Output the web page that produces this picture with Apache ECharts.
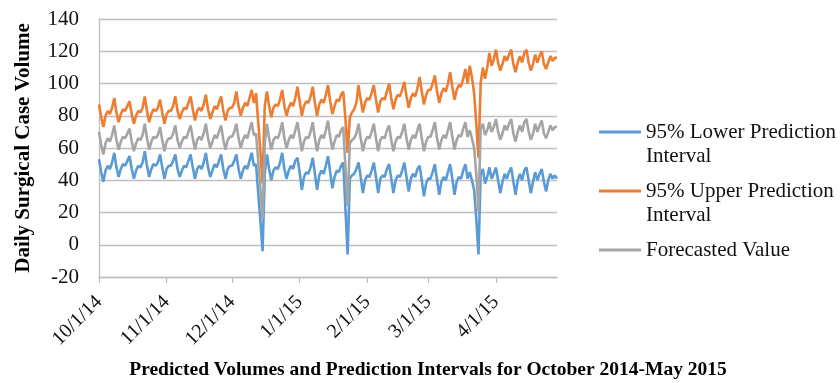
<!DOCTYPE html>
<html>
<head>
<meta charset="utf-8">
<title>Daily Surgical Case Volume Forecast</title>
<script src="https://cdn.jsdelivr.net/npm/echarts@6/dist/echarts.min.js"></script>
<style>
  html, body { margin: 0; padding: 0; background: #ffffff; }
  #chart { width: 840px; height: 383px; }
</style>
</head>
<body>
<div id="chart"></div>
<script>
// First day of the daily series; one value per day follows.
const startDate = '2014-10-01';

const seriesNames = [
  '95% Lower Prediction Interval',
  '95% Upper Prediction Interval',
  'Forecasted Value'
];

const lowerValues = [
  53, 45, 39, 46, 49, 47, 51,
  57, 48, 42, 47, 50, 49, 52,
  55, 47, 41, 46, 49, 48, 51,
  58, 49, 42, 47, 50, 49, 51,
  56, 48, 41, 47, 49, 49, 52,
  56, 47, 42, 46, 49, 48, 52,
  56, 48, 41, 47, 49, 47, 51,
  57, 48, 42, 46, 50, 48, 52,
  56, 47, 41, 47, 49, 49, 52,
  56, 47, 41, 46, 49, 47, 52,
  57, 49, 50, 32, 15, -4, 44,
  56, 47, 40, 46, 48, 47, 51,
  57, 47, 41, 46, 49, 47, 52,
  54, 45, 34, 42, 45, 44, 48,
  54, 44, 34, 43, 46, 44, 49,
  55, 45, 35, 42, 46, 45, 49,
  51, 22, -6, 41, 43, 44, 47,
  51, 42, 32, 40, 43, 42, 46,
  51, 42, 32, 41, 43, 42, 47,
  50, 41, 32, 40, 43, 42, 46,
  51, 42, 33, 41, 44, 42, 47,
  49, 40, 30, 38, 41, 41, 45,
  50, 40, 31, 39, 42, 40, 45,
  50, 41, 31, 39, 42, 41, 46,
  50, 41, 45, 40, 34, 16, -6,
  44, 47, 38, 42, 48, 41, 44,
  48, 40, 32, 39, 44, 41, 45,
  48, 39, 31, 40, 44, 40, 46,
  48, 40, 32, 39, 45, 40, 44,
  47, 39, 33, 40, 44, 41, 43,
  41
];

const upperValues = [
  87, 79, 73, 80, 83, 81, 85,
  91, 82, 76, 81, 84, 83, 86,
  89, 81, 75, 80, 83, 82, 85,
  92, 83, 76, 81, 84, 83, 85,
  90, 82, 75, 81, 83, 83, 86,
  92, 83, 78, 82, 85, 84, 88,
  92, 84, 77, 83, 85, 83, 87,
  93, 84, 78, 82, 86, 84, 88,
  92, 83, 77, 83, 85, 85, 88,
  95, 86, 80, 85, 88, 86, 91,
  96, 88, 94, 76, 58, 38, 86,
  95, 86, 79, 85, 87, 86, 90,
  96, 86, 80, 85, 88, 86, 91,
  98, 89, 80, 86, 89, 88, 92,
  98, 88, 80, 87, 90, 88, 93,
  99, 89, 81, 86, 90, 89, 93,
  95, 78, 57, 79, 82, 84, 88,
  99, 90, 82, 88, 91, 90, 94,
  99, 90, 82, 89, 91, 90, 95,
  100, 91, 84, 90, 93, 92, 96,
  101, 92, 85, 91, 94, 92, 97,
  104, 95, 87, 93, 96, 96, 100,
  105, 95, 88, 94, 97, 95, 100,
  107, 98, 90, 96, 99, 98, 103,
  109, 100, 111, 104, 94, 75, 54,
  100, 110, 103, 110, 119, 111, 115,
  121, 113, 108, 112, 117, 114, 118,
  121, 112, 107, 113, 117, 113, 119,
  121, 113, 108, 112, 118, 113, 117,
  120, 112, 109, 113, 117, 114, 116,
  116
];

const forecastValues = [
  70, 62, 56, 63, 66, 64, 68,
  74, 65, 59, 64, 67, 66, 69,
  72, 64, 58, 63, 66, 65, 68,
  75, 66, 59, 64, 67, 66, 68,
  73, 65, 58, 64, 66, 66, 69,
  74, 65, 60, 64, 67, 66, 70,
  74, 66, 59, 65, 67, 65, 69,
  75, 66, 60, 64, 68, 66, 70,
  74, 65, 59, 65, 67, 67, 70,
  75, 66, 60, 65, 68, 66, 71,
  76, 68, 69, 52, 35, 16, 63,
  75, 66, 59, 65, 67, 66, 70,
  76, 66, 60, 65, 68, 66, 71,
  76, 67, 58, 64, 67, 66, 70,
  76, 66, 58, 65, 68, 66, 71,
  77, 67, 59, 64, 68, 67, 71,
  73, 48, 24, 63, 65, 66, 69,
  75, 66, 58, 64, 67, 66, 70,
  75, 66, 58, 65, 67, 66, 71,
  74, 65, 58, 64, 67, 66, 70,
  75, 66, 59, 65, 68, 66, 71,
  75, 66, 58, 64, 67, 67, 71,
  76, 66, 59, 65, 68, 66, 71,
  76, 67, 59, 65, 68, 67, 72,
  76, 67, 71, 66, 60, 44, 21,
  72, 75, 68, 71, 76, 70, 73,
  78, 70, 65, 69, 74, 71, 75,
  78, 69, 64, 70, 74, 70, 76,
  78, 70, 65, 69, 75, 70, 74,
  77, 69, 66, 70, 74, 71, 73,
  73
];

// Value axis range and step
const yMin = -20;
const yMax = 140;
const yStep = 20;

const yAxisTitle = 'Daily Surgical Case Volume';
const chartTitle = 'Predicted Volumes and Prediction Intervals for October 2014-May 2015';

// Day labels in M/D/YY form, one per value
function buildDayLabels(start, count) {
  const parts = start.split('-').map(Number);
  const labels = [];
  for (let k = 0; k < count; k++) {
    const t = new Date(Date.UTC(parts[0], parts[1] - 1, parts[2] + k));
    labels.push((t.getUTCMonth() + 1) + '/' + t.getUTCDate() + '/' + String(t.getUTCFullYear()).slice(2));
  }
  return labels;
}
const dayLabels = buildDayLabels(startDate, forecastValues.length);

// Only the first day of each month gets a tick and label
function isMonthStart(index, value) {
  return value.split('/')[1] === '1';
}

const FONT = '"Liberation Serif", "Times New Roman", serif';
const colors = ['#5B9BD5', '#ED7D31', '#A5A5A5'];
const gridColor = '#BFBFBF';

// Legend text: the key line sits level with the first text line,
// so every entry gets one empty line above and wraps after "Prediction".
function legendText(name) {
  if (name.indexOf(' Interval') >= 0) {
    return '\n' + name.replace(' Interval', '\nInterval');
  }
  return '\n' + name + '\n';
}

const chart = echarts.init(document.getElementById('chart'), null, { renderer: 'canvas' });

chart.setOption({
  animation: false,
  backgroundColor: '#ffffff',
  color: colors,
  textStyle: { fontFamily: FONT },
  title: {
    text: chartTitle,
    left: 423,
    top: 355,
    textAlign: 'center',
    textStyle: { fontFamily: FONT, fontSize: 19.5, fontWeight: 'bold', color: '#000000' }
  },
  grid: { left: 99, right: 283, top: 19, bottom: 106, containLabel: false },
  legend: {
    orient: 'vertical',
    left: 599,
    top: 96,
    padding: 0,
    itemGap: -13,
    itemWidth: 42,
    itemHeight: 3,
    icon: 'rect',
    selectedMode: false,
    formatter: legendText,
    textStyle: { fontFamily: FONT, fontSize: 21, color: '#111111', lineHeight: 24 },
    data: seriesNames
  },
  xAxis: {
    type: 'category',
    data: dayLabels,
    boundaryGap: false,
    axisLine: { onZero: false, lineStyle: { color: gridColor, width: 1.3 } },
    axisTick: { show: true, interval: isMonthStart, length: 6, lineStyle: { color: gridColor, width: 1.3 } },
    axisLabel: {
      interval: isMonthStart,
      rotate: 45,
      margin: 22,
      fontFamily: FONT,
      fontSize: 20,
      color: '#111111'
    },
    splitLine: { show: false }
  },
  yAxis: {
    type: 'value',
    min: yMin,
    max: yMax,
    interval: yStep,
    name: yAxisTitle,
    nameLocation: 'middle',
    nameGap: 65,
    nameRotate: 90,
    nameTextStyle: { fontFamily: FONT, fontSize: 21, fontWeight: 'bold', color: '#000000' },
    axisLine: { show: true, lineStyle: { color: gridColor, width: 1.3 } },
    axisTick: { show: false },
    axisLabel: { margin: 20, fontFamily: FONT, fontSize: 21, color: '#111111' },
    splitLine: { show: true, lineStyle: { color: gridColor, width: 1.3 } }
  },
  series: [
    {
      name: seriesNames[0],
      type: 'line',
      data: lowerValues,
      symbol: 'none',
      lineStyle: { width: 2.6, color: colors[0] },
      emphasis: { disabled: true }
    },
    {
      name: seriesNames[1],
      type: 'line',
      data: upperValues,
      symbol: 'none',
      lineStyle: { width: 2.6, color: colors[1] },
      emphasis: { disabled: true }
    },
    {
      name: seriesNames[2],
      type: 'line',
      data: forecastValues,
      symbol: 'none',
      lineStyle: { width: 2.6, color: colors[2] },
      emphasis: { disabled: true }
    }
  ]
});
</script>
</body>
</html>
